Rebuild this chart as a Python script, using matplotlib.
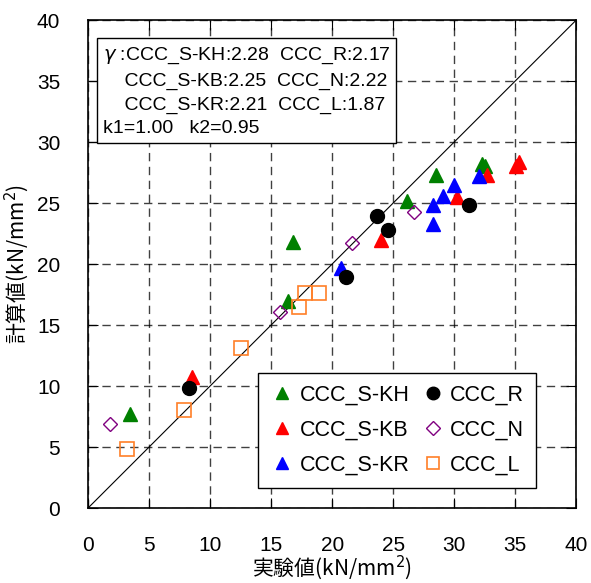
import matplotlib
matplotlib.use("Agg")
import matplotlib.pyplot as plt

plt.rcParams['font.family'] = ['Liberation Sans', 'Noto Sans CJK JP', 'DejaVu Sans']

# データ (実験値, 計算値)
skh_x = [3.4, 16.8, 16.4, 26.1, 28.5, 32.5, 32.3]
skh_y = [7.7, 21.8, 17.0, 25.2, 27.3, 28.0, 28.2]
skb_x = [8.5, 24.0, 30.2, 32.7, 35.1, 35.3]
skb_y = [10.7, 22.0, 25.5, 27.3, 28.0, 28.4]
skr_x = [20.7, 28.3, 28.3, 29.1, 30.0, 32.0]
skr_y = [19.7, 23.3, 24.8, 25.6, 26.5, 27.2]
r_x = [8.3, 21.1, 23.7, 24.6, 31.2]
r_y = [9.8, 18.9, 23.9, 22.8, 24.8]
n_x = [1.8, 15.7, 21.6, 26.7]
n_y = [6.9, 16.1, 21.7, 24.3]
l_x = [3.2, 7.9, 12.5, 17.3, 17.8, 18.9]
l_y = [4.8, 8.0, 13.1, 16.5, 17.6, 17.6]

ticks = [0, 5, 10, 15, 20, 25, 30, 35, 40]

fig = plt.figure(figsize=(5.91, 5.83), dpi=100)
ax = fig.add_axes([0.149, 0.1286, 0.826, 0.837])

ax.plot([0, 40], [0, 40], color='black', lw=0.8, zorder=2)

ms = 10
# 凡例は列ごとに並ぶので S-K 系を先に
ax.plot(skh_x, skh_y, '^', color='green', ms=ms, ls='none', label='CCC_S-KH', zorder=3)
ax.plot(skb_x, skb_y, '^', color='red', ms=ms, ls='none', label='CCC_S-KB', zorder=3)
ax.plot(skr_x, skr_y, '^', color='blue', ms=ms, ls='none', label='CCC_S-KR', zorder=3)
ax.plot(r_x, r_y, 'o', color='black', ms=ms, ls='none', label='CCC_R', zorder=3)
ax.plot(n_x, n_y, 'D', mfc='none', mec='purple', mew=1, ms=7.5, ls='none', label='CCC_N', zorder=3)
ax.plot(l_x, l_y, 's', mfc='none', mec='#ff7f27', mew=1.2, ms=10, ls='none', label='CCC_L', zorder=3)

ax.set_xlim(0, 40)
ax.set_ylim(0, 40)
ax.set_xticks(ticks)
ax.set_yticks(ticks)
ax.grid(True, color='black', ls=(0, (6, 4)), lw=1, alpha=0.75)
ax.tick_params(direction='in', top=True, right=True, length=7, labelsize=15)
ax.tick_params(axis='x', pad=20)
ax.tick_params(axis='y', pad=20)
for s in ax.spines.values():
    s.set_linewidth(1.2)

ax.set_xlabel('実験値(kN/mm$^2$)', fontsize=15, family=['Noto Sans CJK JP'], labelpad=-1)
ax.set_ylabel('計算値(kN/mm$^2$)', fontsize=15, family=['Noto Sans CJK JP'], labelpad=4)

txt = ('$\\gamma$ :CCC_S-KH:2.28  CCC_R:2.17\n'
       '    CCC_S-KB:2.25  CCC_N:2.22\n'
       '    CCC_S-KR:2.21  CCC_L:1.87\n'
       'k1=1.00   k2=0.95')
ax.text(0.03, 0.947, txt, transform=ax.transAxes, fontsize=14, va='top', ha='left',
        linespacing=1.5, zorder=5,
        bbox=dict(boxstyle='square,pad=0.3', fc='white', ec='black', lw=1))

leg = ax.legend(ncol=2, loc='lower right', bbox_to_anchor=(0.94, 0.02), fontsize=15.5,
                fancybox=False, framealpha=1, edgecolor='black', handletextpad=0.2,
                columnspacing=0.5, labelspacing=0.65, handlelength=1.2, borderpad=0.55,
                markerscale=0.9)
leg.get_frame().set_linewidth(1)

fig.savefig('out.png', dpi=100)
